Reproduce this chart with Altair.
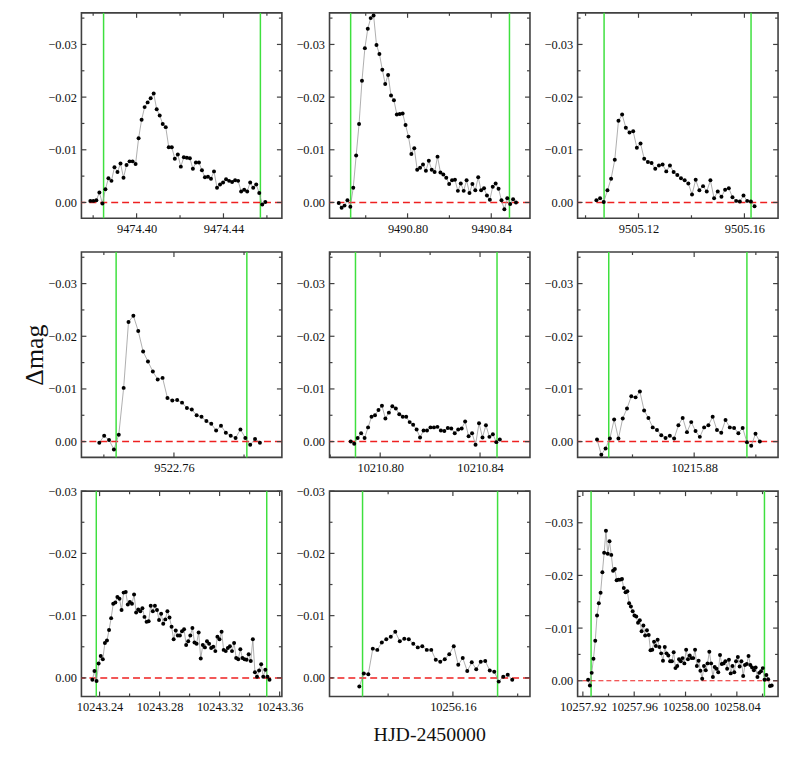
import altair as alt
import pandas as pd

FONT = "Liberation Serif"
CADENCE = 2.0 / 1440.0  # 2-minute sampling, in days
W, H = 202, 207
FRAME = "#404040"
GREEN = "#3ee03e"
RED = "#ee2020"
LINE = "#9a9a9a"

Y_MAJOR = [-0.03, -0.02, -0.01, 0.0]
Y_MINOR = [-0.035, -0.025, -0.015, -0.005]

# ---- panel data (delta mag in mmag) ----
p1_t0 = 9474.3787
p1_dmag = [-0.3, -0.3, -0.4, -1.9, 0.2, -2.5, -4.6, -4.1, -6.7, -5.8, -7.4, -4.7, -7.1, -7.8, -7.8, -7.3,
           -12.2, -15.7, -18.1, -19.0, -19.8, -20.7, -17.7, -16.5, -14.9, -14.3, -10.5, -10.5, -8.3, -9.1,
           -6.8, -8.6, -8.5, -8.4, -6.4, -7.6, -7.6, -6.1, -4.8, -4.9, -4.5, -5.9, -2.8, -3.4, -3.8, -4.4,
           -4.1, -3.9, -4.2, -4.1, -2.1, -2.4, -2.1, -3.8, -2.8, -3.4, -1.8, 0.4, -0.1]
p1_green = [9474.3848, 9474.4570]
p1_xdom = [9474.3746, 9474.4669]
p1_xticks = [9474.38, 9474.40, 9474.42, 9474.44, 9474.46]
p1_xlabels = [9474.40, 9474.44]

p2_t0 = 9490.7671
p2_dmag = [0.1, 1.0, 0.6, -0.4, 0.8, -2.8, -8.9, -14.9, -23.1, -29.3, -33.0, -35.0, -35.5, -29.9, -28.2,
           -25.2, -22.5, -24.2, -20.3, -19.4, -16.7, -16.8, -16.9, -14.7, -12.5, -9.2, -10.3, -6.2, -6.6,
           -7.2, -6.0, -7.9, -6.2, -5.8, -8.7, -5.7, -5.3, -4.7, -3.5, -4.2, -4.3, -2.2, -3.6, -2.2, -4.2,
           -1.8, -3.5, -2.3, -4.8, -2.3, -2.7, -1.3, -0.5, -3.0, -3.6, -2.6, -0.4, 1.3, -0.8, 0.3, -0.6, 0.0]
p2_green = [9490.7728, 9490.8487]
p2_xdom = [9490.7627, 9490.8585]
p2_xticks = [9490.78, 9490.80, 9490.82, 9490.84]
p2_xlabels = [9490.80, 9490.84]

p3_t0 = 9505.1041
p3_dmag = [-0.4, -0.8, -0.1, -2.3, -4.5, -8.1, -15.5, -16.7, -14.2, -13.3, -13.5, -10.4, -11.2, -8.3, -7.7,
           -7.5, -6.4, -7.0, -7.2, -5.9, -7.0, -5.8, -5.2, -4.6, -4.2, -3.6, -1.5, -4.3, -2.3, -3.1, -2.1,
           -4.2, -0.8, -2.1, -1.1, -2.4, -2.7, -1.0, -0.3, -0.2, -1.3, -0.3, -0.2, 0.7]
p3_green = [9505.1070, 9505.1625]
p3_xdom = [9505.0970, 9505.1727]
p3_xticks = [9505.10, 9505.12, 9505.14, 9505.16]
p3_xlabels = [9505.12, 9505.16]

p4_t0 = 9522.7387
p4_dmag = [0.2, -1.1, -0.3, 1.5, -1.3, -10.2, -22.7, -23.9, -21.0, -17.1, -15.2, -13.3, -11.8, -12.1, -8.3,
           -7.8, -7.9, -7.4, -6.4, -6.1, -5.0, -4.7, -3.9, -3.4, -2.1, -3.0, -1.7, -1.1, -0.7, -2.3, -0.7,
           0.6, -0.5, 0.2]
p4_green = [9522.7435, 9522.7808]
p4_xdom = [9522.7336, 9522.7908]
p4_xticks = [9522.74, 9522.76, 9522.78]
p4_xlabels = [9522.76]

p5_t0 = 10210.7882
p5_dmag = [0.0, 0.4, -0.7, -1.6, -0.7, -2.7, -4.7, -5.0, -6.0, -6.8, -4.4, -5.5, -6.7, -6.3, -5.2, -4.7,
           -4.7, -3.7, -3.2, -2.3, -0.8, -2.1, -2.1, -2.7, -2.7, -2.8, -2.1, -2.0, -2.6, -2.5, -1.6, -2.3,
           -2.5, -3.8, -1.0, -1.6, 0.6, -3.5, -0.8, -3.1, -0.9, -1.4, 0.1, -0.4]
p5_green = [10210.7901, 10210.8468]
p5_xdom = [10210.7797, 10210.8600]
p5_xticks = [10210.78, 10210.80, 10210.82, 10210.84]
p5_xlabels = [10210.80, 10210.84]

p6_t0 = 10215.8485
p6_dmag = [-0.4, 2.5, 1.3, -0.6, -4.2, -0.6, -4.4, -6.3, -8.6, -8.4, -9.5, -5.9, -4.5, -2.7, -2.2, -1.2,
           -0.7, -1.1, -0.6, -3.1, -4.5, -1.8, -3.7, -2.0, -0.9, -2.7, -3.1, -4.7, -2.2, -1.7, -4.1, -2.7,
           -2.6, -1.6, -2.6, 0.1, 0.8, -1.5, 0.0]
p6_green = [10215.8523, 10215.8971]
p6_xdom = [10215.8422, 10215.9072]
p6_xticks = [10215.86, 10215.88, 10215.90]
p6_xlabels = [10215.88]

p7_t0 = 10243.2352
p7_dmag = [0.3, -1.1, 0.5, -2.3, -3.5, -3.0, -5.6, -6.0, -7.7, -9.6, -11.9, -12.1, -13.0, -12.7, -10.9,
           -13.7, -13.8, -11.8, -12.2, -11.9, -13.4, -10.5, -11.0, -10.7, -11.2, -9.8, -9.0, -9.1, -11.6,
           -10.7, -11.6, -10.9, -9.3, -10.3, -8.7, -9.4, -10.7, -9.7, -8.2, -6.2, -7.6, -6.8, -6.8, -7.5,
           -7.8, -5.3, -5.9, -6.8, -8.0, -5.7, -5.5, -7.3, -3.1, -5.3, -4.9, -5.9, -5.5, -4.8, -5.0, -4.3,
           -6.6, -6.2, -7.4, -4.5, -4.3, -4.8, -5.1, -4.3, -5.6, -3.2, -3.0, -4.6, -3.2, -3.0, -2.9, -3.8,
           -2.7, -6.2, -0.9, -0.2, -1.2, -2.2, -0.2, -1.3, -0.2, 0.3]
p7_green = [10243.2378, 10243.3514]
p7_xdom = [10243.2279, 10243.3615]
p7_xticks = [10243.24, 10243.26, 10243.28, 10243.30, 10243.32, 10243.34, 10243.36]
p7_xlabels = [10243.24, 10243.28, 10243.32, 10243.36]

p8_t0 = 10256.1311
p8_dmag = [1.4, -0.7, -0.6, -4.7, -4.5, -5.7, -6.2, -6.6, -7.4, -5.9, -6.3, -6.2, -5.5, -4.9, -5.1, -4.5,
           -4.5, -2.9, -2.6, -3.0, -3.8, -5.1, -2.1, -3.2, -1.1, -2.5, -1.4, -2.6, -2.7, -1.2, -1.0, 0.6,
           -0.2, -0.5, 0.3]
p8_green = [10256.1321, 10256.1738]
p8_xdom = [10256.1219, 10256.1838]
p8_xticks = [10256.14, 10256.16, 10256.18]
p8_xlabels = [10256.16]

p9_t0 = 10257.9241
p9_dmag = [-0.2, 0.9, -1.5, -4.2, -7.6, -12.4, -14.7, -16.7, -20.6, -24.3,
           -28.5, -24.1, -26.5, -23.9, -20.9, -21.2, -19.1, -19.2, -19.2, -19.3,
           -17.6, -16.8, -17.0, -14.7, -14.1, -13.2, -12.4, -12.2, -11.0, -11.5,
           -9.4, -10.5, -8.6, -9.6, -8.7, -5.8, -5.9, -7.4, -6.6, -7.8,
           -6.4, -5.2, -3.8, -6.4, -5.2, -4.8, -3.7, -3.7, -5.4, -2.4,
           -2.8, -4.1, -3.7, -4.3, -3.3, -5.9, -4.1, -4.8, -4.3, -4.3,
           -5.9, -2.8, -3.8, -1.9, -0.4, -2.8, -2.0, -3.3, -5.5, -3.3,
           -0.7, -2.6, -2.3, -1.6, -4.9, -3.2, -3.3, -3.7, -2.3, -4.0,
           -1.4, -2.8, -1.6, -3.7, -4.5, -2.7, -3.7, -0.9, -3.0, -3.2,
           -4.7, -3.0, -2.5, -2.0, -2.5, -0.7, -1.5, -1.8, -2.4, -0.2,
           -1.1, -0.3, 1.0, 0.9]
p9_green = [10257.9264, 10258.0615]
p9_xdom = [10257.9159, 10258.0721]
p9_xticks = [10257.92, 10257.94, 10257.96, 10257.98, 10258.00, 10258.02, 10258.04, 10258.06]
p9_xlabels = [10257.92, 10257.96, 10258.00, 10258.04]

YDOM_A = [-0.036, 0.003]
YDOM_B = [-0.03, 0.003]

panels = [
    dict(t0=p1_t0, dmag=p1_dmag, green=p1_green, xdom=p1_xdom, xt=p1_xticks, xl=p1_xlabels, ydom=YDOM_A),
    dict(t0=p2_t0, dmag=p2_dmag, green=p2_green, xdom=p2_xdom, xt=p2_xticks, xl=p2_xlabels, ydom=YDOM_A),
    dict(t0=p3_t0, dmag=p3_dmag, green=p3_green, xdom=p3_xdom, xt=p3_xticks, xl=p3_xlabels, ydom=YDOM_A),
    dict(t0=p4_t0, dmag=p4_dmag, green=p4_green, xdom=p4_xdom, xt=p4_xticks, xl=p4_xlabels, ydom=YDOM_A),
    dict(t0=p5_t0, dmag=p5_dmag, green=p5_green, xdom=p5_xdom, xt=p5_xticks, xl=p5_xlabels, ydom=YDOM_A),
    dict(t0=p6_t0, dmag=p6_dmag, green=p6_green, xdom=p6_xdom, xt=p6_xticks, xl=p6_xlabels, ydom=YDOM_A),
    dict(t0=p7_t0, dmag=p7_dmag, green=p7_green, xdom=p7_xdom, xt=p7_xticks, xl=p7_xlabels, ydom=YDOM_B),
    dict(t0=p8_t0, dmag=p8_dmag, green=p8_green, xdom=p8_xdom, xt=p8_xticks, xl=p8_xlabels, ydom=YDOM_B),
    dict(t0=p9_t0, dmag=p9_dmag, green=p9_green, xdom=p9_xdom, xt=p9_xticks, xl=p9_xlabels, ydom=YDOM_A,
         zw=1.1, zdash=[5, 3]),
]


def tick_rules(values, enc, field, side, length):
    if not values:
        return None
    df = pd.DataFrame({field: values})
    ch = alt.Chart(df).mark_rule(color=FRAME, strokeWidth=1.2)
    if field == "t":
        if side == "bottom":
            return ch.encode(x=enc, y=alt.value(H), y2=alt.value(H - length))
        return ch.encode(x=enc, y=alt.value(0), y2=alt.value(length))
    if side == "left":
        return ch.encode(y=enc, x=alt.value(0), x2=alt.value(length))
    return ch.encode(y=enc, x=alt.value(W - length), x2=alt.value(W))


def build(idx, p):
    n = len(p["dmag"])
    df = pd.DataFrame({"t": [p["t0"] + i * CADENCE for i in range(n)],
                       "m": [v / 1000.0 for v in p["dmag"]]})
    xs = alt.Scale(domain=p["xdom"], nice=False, zero=False)
    ys = alt.Scale(domain=p["ydom"], reverse=True, nice=False, zero=False)
    xax = alt.Axis(values=p["xl"], format=".2f", ticks=False, domain=False, grid=False, title=None,
                   labelPadding=4, labelFlush=False, labelOverlap=False,
                   labelFont=FONT, labelFontSize=12.5, labelColor="#111")
    yax = alt.Axis(values=Y_MAJOR, format=".2f", ticks=False, domain=False, grid=False, title=None,
                   labelPadding=5, labelOverlap=False,
                   labelFont=FONT, labelFontSize=12.5, labelColor="#111")
    X = alt.X("t:Q", scale=xs, axis=xax)
    Y = alt.Y("m:Q", scale=ys, axis=yax)

    lo, hi = p["xdom"]
    xmaj = [v for v in p["xl"] if lo < v < hi]
    xmin = [v for v in p["xt"] if lo < v < hi and all(abs(v - u) > 1e-6 for u in p["xl"])]
    ylo, yhi = p["ydom"]
    ymaj = [v for v in Y_MAJOR if ylo <= v <= yhi]
    ymin = [v for v in Y_MINOR if ylo < v < yhi]

    layers = [
        alt.Chart(pd.DataFrame({"t": p["green"]})).mark_rule(color=GREEN, strokeWidth=1.5).encode(x=X),
        alt.Chart(pd.DataFrame({"m": [0.0]})).mark_rule(
            color=RED, strokeWidth=p.get("zw", 1.5), strokeDash=p.get("zdash", [7, 4])).encode(y=Y),
        alt.Chart(df).mark_line(color=LINE, strokeWidth=0.8).encode(x=X, y=Y),
        alt.Chart(df).mark_circle(color="black", size=16, opacity=1).encode(x=X, y=Y),
    ]
    for side in ("bottom", "top"):
        for vals, ln in ((xmaj, 5), (xmin, 3)):
            r = tick_rules(vals, X, "t", side, ln)
            if r is not None:
                layers.append(r)
    for side in ("left", "right"):
        for vals, ln in ((ymaj, 5), (ymin, 3)):
            r = tick_rules(vals, Y, "m", side, ln)
            if r is not None:
                layers.append(r)

    if idx == 7:
        layers.append(alt.Chart(pd.DataFrame({"s": ["HJD-2450000"]})).mark_text(
            font=FONT, fontSize=20, align="center", baseline="middle", color="#111"
        ).encode(text="s:N", x=alt.value(W / 2), y=alt.value(246)))
    if idx == 3:
        layers.append(alt.Chart(pd.DataFrame({"s": ["\u0394mag"]})).mark_text(
            font=FONT, fontSize=26, align="center", baseline="middle", angle=270, color="#111"
        ).encode(text="s:N", x=alt.value(-47), y=alt.value(104)))

    return alt.layer(*layers).properties(width=W, height=H)


charts = [build(i, p) for i, p in enumerate(panels)]

chart = alt.concat(
    *charts, columns=3, spacing={"row": 34, "column": 48}, bounds="flush",
    padding={"left": 13, "top": 0, "right": 5, "bottom": 5},
).configure_view(
    stroke=FRAME, strokeWidth=1.6
).configure_axis(
    labelFont=FONT, labelFontSize=12.5, labelColor="#111"
)

chart.save("out.html", embed_options={"renderer": "svg", "actions": False})
